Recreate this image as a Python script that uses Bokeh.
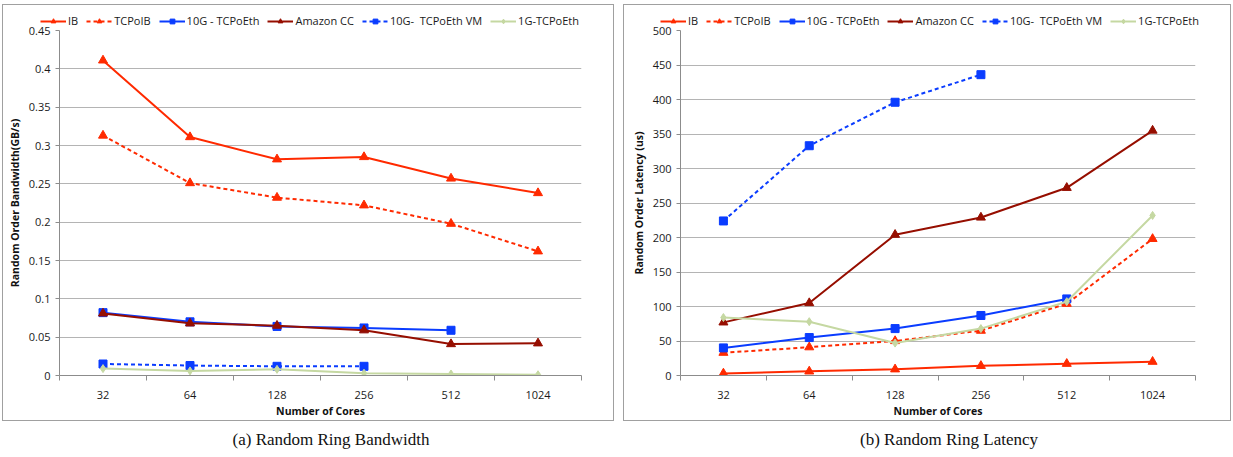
from bokeh.plotting import figure
from bokeh.models import FixedTicker, NumeralTickFormatter, Legend, LegendItem, Div, Spacer
from bokeh.layouts import row, column
from bokeh.embed import file_html
from bokeh.resources import INLINE

cores = ["32", "64", "128", "256", "512", "1024"]
names = ["IB", "TCPoIB", "10G - TCPoEth", "Amazon CC", "10G-  TCPoEth VM", "1G-TCPoEth"]

bw_ib = [0.411, 0.311, 0.282, 0.285, 0.257, 0.238]
bw_tcpoib = [0.313, 0.251, 0.232, 0.222, 0.198, 0.162]
bw_10g = [0.082, 0.070, 0.064, 0.062, 0.059]
bw_amazon = [0.081, 0.068, 0.065, 0.059, 0.041, 0.042]
bw_10gvm = [0.015, 0.013, 0.012, 0.012]
bw_1g = [0.009, 0.006, 0.008, 0.003, 0.002, 0.001]

lat_ib = [3, 6, 9, 14, 17, 20]
lat_tcpoib = [33, 41, 50, 65, 104, 198]
lat_10g = [40, 55, 68, 87, 111]
lat_amazon = [77, 105, 204, 229, 272, 355]
lat_10gvm = [224, 333, 396, 436]
lat_1g = [84, 78, 47, 68, 107, 232]

bw_ticks = [0, 0.05, 0.1, 0.15, 0.2, 0.25, 0.3, 0.35, 0.4, 0.45]
lat_ticks = [0, 50, 100, 150, 200, 250, 300, 350, 400, 450, 500]

RED = "#ff2a00"
BLUE = "#0a3cff"
DRED = "#960e00"
GREEN = "#c5d8a2"

styles = [
    dict(color=RED, dash="solid", marker="triangle", size=9),
    dict(color=RED, dash="4 3", marker="triangle", size=9),
    dict(color=BLUE, dash="solid", marker="square", size=8),
    dict(color=DRED, dash="solid", marker="triangle", size=9),
    dict(color=BLUE, dash="4 3", marker="square", size=8),
    dict(color=GREEN, dash="solid", marker="diamond", size=8),
]

FONT = "Open Sans"
LEG_H = 25
OVERLAP = 8
TOP = 8


def draw_series(p, xs_list, ys_list, big):
    items = []
    for name, xs, ys, st in zip(names, xs_list, ys_list, styles):
        r1 = p.line(xs, ys, line_color=st["color"], line_width=2, line_dash=st["dash"])
        r2 = p.scatter(xs, ys, marker=st["marker"], size=st["size"] if big else st["size"] - 1,
                       fill_color=st["color"], line_color=st["color"])
        items.append(LegendItem(label=name, renderers=[r1, r2]))
    return items


def centers_for(vals):
    return [i + 0.5 for i in range(len(vals))]


def make_legend_fig(series, width, xoff):
    # legend-only strip: the series are drawn but kept out of view (x range beyond data)
    lf = figure(width=width, height=LEG_H, x_range=(100, 101), y_range=(0, 1),
                output_backend="svg", toolbar_location=None,
                x_axis_type=None, y_axis_type=None,
                min_border_left=0, min_border_right=0, min_border_top=0, min_border_bottom=0)
    lf.outline_line_color = None
    lf.xgrid.visible = False
    lf.ygrid.visible = False
    items = draw_series(lf, [centers_for(v) for v in series], series, False)
    leg = Legend(items=items, orientation="horizontal", location=(xoff, 2),
                 glyph_width=26, glyph_height=12, label_standoff=2, spacing=8,
                 padding=0, margin=0, border_line_color=None, background_fill_alpha=0,
                 label_text_font=FONT, label_text_font_size="11px",
                 label_text_color="#1a1a1a", label_height=12, label_width=0)
    lf.add_layout(leg, "center")
    return lf


def make_panel(series, ylabel, yticks, fmt, width, right_border):
    ymax = yticks[-1]
    p = figure(width=width, height=415 - LEG_H + OVERLAP, x_range=(0, len(cores)),
               y_range=(0, ymax),
               output_backend="svg", toolbar_location=None,
               min_border_left=56, min_border_right=right_border,
               min_border_top=TOP, min_border_bottom=39)
    p.outline_line_color = None
    p.border_fill_alpha = 0
    p.xgrid.visible = False
    p.ygrid.grid_line_color = "#b4b4b4"
    p.ygrid.grid_line_width = 1.2

    centers = [i + 0.5 for i in range(len(cores))]
    bounds = list(range(len(cores) + 1))
    p.xaxis.ticker = FixedTicker(ticks=centers, minor_ticks=bounds)
    p.xaxis.major_label_overrides = {c: lab for c, lab in zip(centers, cores)}
    p.xaxis.major_tick_out = 0
    p.xaxis.major_tick_in = 0
    p.xaxis.minor_tick_out = 5
    p.xaxis.minor_tick_in = 0
    p.xaxis.major_label_standoff = 10
    p.xaxis.axis_label = "Number of Cores"
    p.xaxis.axis_label_standoff = 2

    p.yaxis.ticker = FixedTicker(ticks=yticks)
    if fmt:
        p.yaxis.formatter = fmt
    p.yaxis.major_tick_out = 4
    p.yaxis.major_tick_in = 0
    p.yaxis.minor_tick_out = 0
    p.yaxis.minor_tick_in = 0
    p.yaxis.major_label_standoff = 5
    p.yaxis.axis_label = ylabel
    p.yaxis.axis_label_standoff = 4

    for ax in (p.xaxis[0], p.yaxis[0]):
        ax.axis_line_color = "#8c8c8c"
        ax.major_tick_line_color = "#8c8c8c"
        ax.minor_tick_line_color = "#8c8c8c"
        ax.major_label_text_font = FONT
        ax.major_label_text_font_size = "11px"
        ax.major_label_text_color = "#1a1a1a"
        ax.axis_label_text_font = FONT
        ax.axis_label_text_font_size = "10.5px"
        ax.axis_label_text_font_style = "bold"
        ax.axis_label_text_color = "#111111"

    draw_series(p, [centers_for(v) for v in series], series, True)
    return p


bw_series = [bw_ib, bw_tcpoib, bw_10g, bw_amazon, bw_10gvm, bw_1g]
lat_series = [lat_ib, lat_tcpoib, lat_10g, lat_amazon, lat_10gvm, lat_1g]

pa = make_panel(bw_series, "Random Order Bandwidth(GB/s)", bw_ticks,
                NumeralTickFormatter(format="0.[00]"), 610, 32)
pb = make_panel(lat_series, "Random Order Latency (us)", lat_ticks, None, 606, 35)
la = make_legend_fig(bw_series, 610, 37)
lb = make_legend_fig(lat_series, 606, 36)

box = {"border": "1px solid #a0a0a0"}
panel_a = column(row(la, margin=(0, 0, -OVERLAP, 0)), row(pa), spacing=0, styles=box)
panel_b = column(row(lb, margin=(0, 0, -OVERLAP, 0)), row(pb), spacing=0, styles=box)

cap_a = {"font-family": "Liberation Serif", "font-size": "17px", "color": "#111",
         "text-align": "center", "width": "100%", "padding-left": "46px"}
cap_b = dict(cap_a)
cap_b["padding-left"] = "44px"
ca = Div(text="(a) Random Ring Bandwidth", width=610, height=32, margin=(7, 0, 0, 0),
         styles=cap_a)
cb = Div(text="(b) Random Ring Latency", width=606, height=32, margin=(7, 0, 0, 0),
         styles=cap_b)

layout = column(
    Spacer(height=4),
    row(Spacer(width=2), column(panel_a, ca, spacing=0), Spacer(width=9),
        column(panel_b, cb, spacing=0)),
    spacing=0,
)

open("out.html", "w").write(file_html(layout, INLINE))
